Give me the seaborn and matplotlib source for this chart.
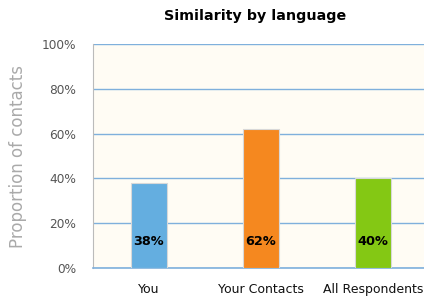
import matplotlib

matplotlib.use("Agg")
import matplotlib.pyplot as plt
import pandas as pd
import seaborn as sns
from matplotlib.ticker import PercentFormatter

categories = ["You", "Your Contacts", "All Respondents"]
proportions = [0.38, 0.62, 0.40]
bar_colors = ["#64aee0", "#f5881f", "#84c814"]
y_ticks = [0, 0.2, 0.4, 0.6, 0.8, 1.0]

sns.set_style("white")
plt.rcParams["font.family"] = ["DejaVu Sans"]

df = pd.DataFrame({"group": categories, "share": proportions})

fig = plt.figure(figsize=(4.24, 2.98), dpi=100)
ax = fig.add_axes([93 / 424, 30 / 298, 336 / 424, 224 / 298])
ax.set_facecolor("#fffcf4")

sns.barplot(
    data=df,
    x="group",
    y="share",
    hue="group",
    palette=bar_colors,
    saturation=1,
    width=0.32,
    edgecolor="#d8d8d8",
    linewidth=0.8,
    legend=False,
    ax=ax,
    zorder=3,
)

for i, v in enumerate(proportions):
    ax.text(i, 0.12, f"{v:.0%}", ha="center", va="center",
            fontsize=9.3, fontweight="bold", color="black", zorder=4)

ax.set_ylim(0, 1)
ax.set_xlim(-0.5, 2.5)
ax.set_yticks(y_ticks)
ax.yaxis.set_major_formatter(PercentFormatter(1.0, decimals=0))
ax.grid(axis="y", color="#7fb0dc", linewidth=1.0, zorder=1)
ax.set_axisbelow(True)

for side in ["top", "right"]:
    ax.spines[side].set_visible(False)
ax.spines["left"].set_color("#bbbbbb")
ax.spines["left"].set_linewidth(0.8)
ax.spines["bottom"].set_color("#7fb0dc")
ax.spines["bottom"].set_linewidth(1.2)

ax.tick_params(axis="y", length=0, labelsize=8.7, labelcolor="#555555", pad=12)
ax.tick_params(axis="x", length=0, labelsize=9, labelcolor="#111111", pad=11)
ax.set_xlabel("")
ax.set_ylabel("Proportion of contacts", fontsize=12, color="#aaaaaa", labelpad=11)

fig.text(255 / 424, 1 - 16 / 298, "Similarity by language", ha="center",
         va="center", fontsize=10.3, fontweight="bold", color="black")

fig.savefig("out.png", dpi=100)
